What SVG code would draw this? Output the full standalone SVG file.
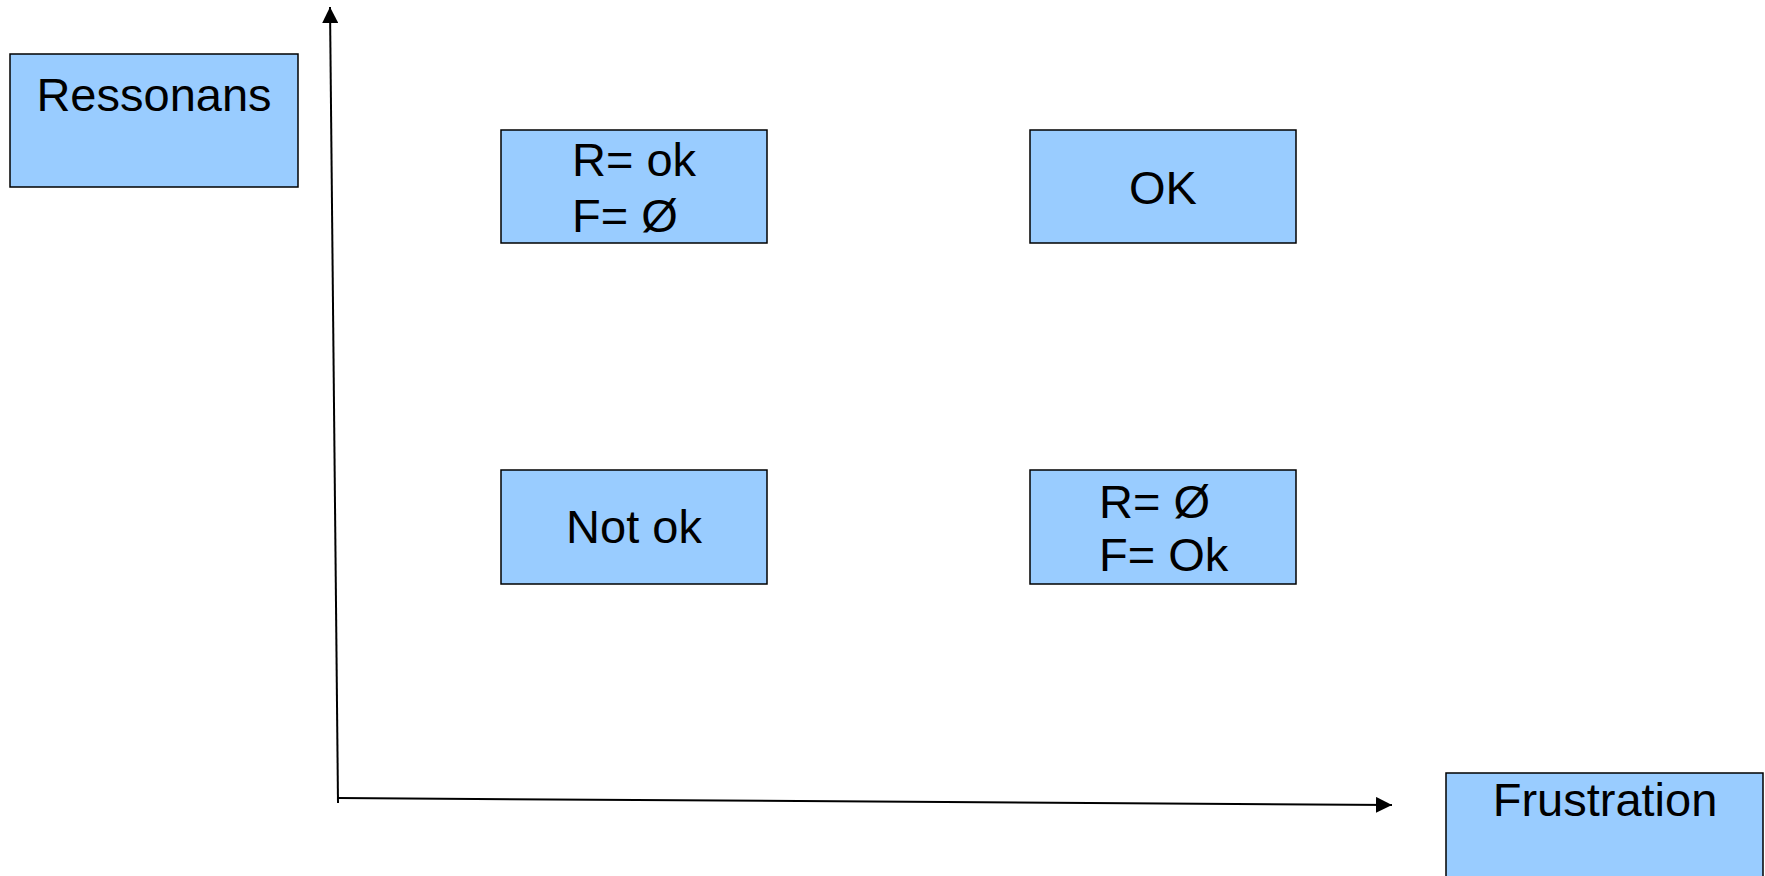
<svg xmlns="http://www.w3.org/2000/svg" width="1765" height="876" viewBox="0 0 1765 876">
<style>
.box{fill:#99ccff;stroke:#000;stroke-width:1.5}
.t{font-family:"Liberation Sans",Arial,sans-serif;font-size:47px;fill:#000}
.c{text-anchor:middle}
.ax{stroke:#000;stroke-width:2;fill:none}
</style>
<defs>
<marker id="ah" markerUnits="userSpaceOnUse" markerWidth="18" markerHeight="16" refX="16" refY="8" orient="auto">
<path d="M0,0 L16,8 L0,16 Z" fill="#000"/>
</marker>
</defs>
<rect width="1765" height="876" fill="#fff"/>
<g id="connectors">
<line class="ax" x1="338" y1="803" x2="330" y2="7" marker-end="url(#ah)"/>
<line class="ax" x1="338" y1="798" x2="1392" y2="805" marker-end="url(#ah)"/>
</g>
<g id="ressonans">
<rect class="box" x="10" y="54" width="288" height="133"/>
<text class="t c" x="154" y="111">Ressonans</text>
</g>
<g id="frustration">
<rect class="box" x="1446" y="773" width="317" height="130"/>
<text class="t c" x="1605" y="816">Frustration</text>
</g>
<g id="r-ok">
<rect class="box" x="501" y="130" width="266" height="113"/>
<text class="t" x="572" y="176">R= ok</text>
<text class="t" x="572" y="232">F= Ø</text>
</g>
<g id="ok">
<rect class="box" x="1030" y="130" width="266" height="113"/>
<text class="t c" x="1163" y="204">OK</text>
</g>
<g id="not-ok">
<rect class="box" x="501" y="470" width="266" height="114"/>
<text class="t c" x="634" y="543">Not ok</text>
</g>
<g id="f-ok">
<rect class="box" x="1030" y="470" width="266" height="114"/>
<text class="t" x="1099" y="518">R= Ø</text>
<text class="t" x="1099" y="571">F= Ok</text>
</g>
</svg>
